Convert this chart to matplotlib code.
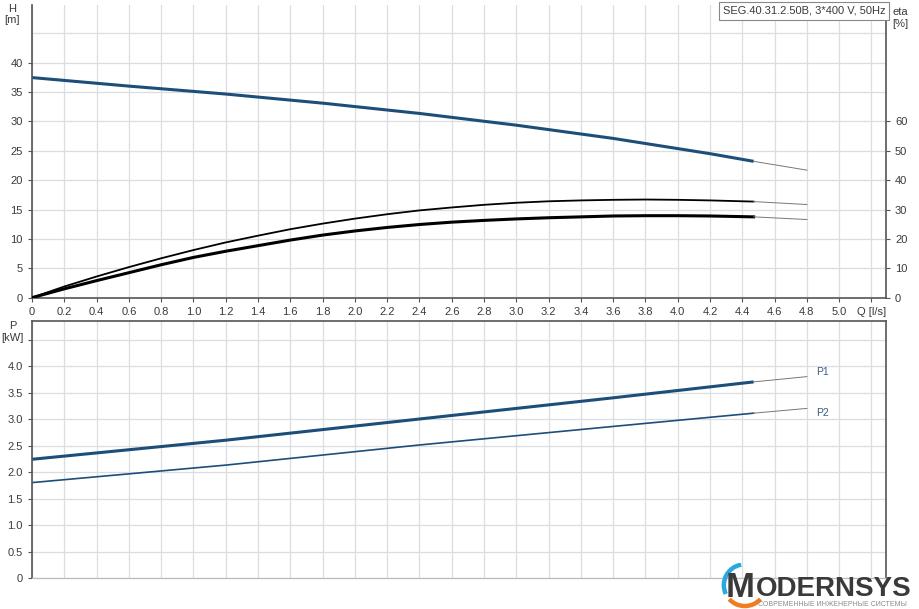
import matplotlib
matplotlib.use("Agg")
import matplotlib.pyplot as plt
from matplotlib.patches import Arc
from matplotlib.ticker import FixedLocator

plt.rcParams["font.family"] = ["Liberation Sans", "DejaVu Sans"]

# pump curve H(Q), thick part up to 4.47 l/s, thin extension to 4.8
q_h = [0, 0.6, 1.2, 1.8, 2.4, 3.0, 3.6, 4.2, 4.47]
h_m = [37.45, 36.0, 34.65, 33.1, 31.35, 29.35, 27.1, 24.5, 23.2]
q_h_ext = [4.47, 4.8]
h_m_ext = [23.2, 21.7]

# efficiency curves [%]
q_eta = [0, 0.2, 0.4, 0.6, 0.8, 1.0, 1.2, 1.4, 1.6, 1.8, 2.0, 2.2,
         2.4, 2.6, 2.8, 3.0, 3.2, 3.4, 3.6, 3.8, 4.0, 4.2, 4.47]
eta_upper = [0, 3.8, 7.2, 10.4, 13.4, 16.2, 18.8, 21.1, 23.3, 25.2, 26.9, 28.4,
             29.7, 30.7, 31.6, 32.3, 32.8, 33.1, 33.3, 33.4, 33.3, 33.1, 32.7]
eta_lower = [0, 3.0, 5.8, 8.5, 11.2, 13.7, 15.8, 17.7, 19.6, 21.3, 22.7, 23.9,
             24.9, 25.7, 26.3, 26.8, 27.2, 27.5, 27.8, 27.9, 27.9, 27.8, 27.5]
q_eta_ext = [4.47, 4.8]
eta_upper_ext = [32.7, 31.7]
eta_lower_ext = [27.5, 26.6]

# power curves [kW]
q_p = [0, 1.2, 2.4, 3.6, 4.47]
p1 = [2.24, 2.60, 3.00, 3.40, 3.70]
p2 = [1.80, 2.13, 2.51, 2.86, 3.11]
q_p_ext = [4.47, 4.8]
p1_ext = [3.70, 3.80]
p2_ext = [3.11, 3.20]

x_ticks = [round(0.2 * i, 1) for i in range(27)]
x_labels = ["0"] + [f"{v:.1f}" for v in x_ticks[1:-1]] + ["Q [l/s]"]
h_ticks = [0, 5, 10, 15, 20, 25, 30, 35, 40]
eta_ticks = [0, 10, 20, 30, 40, 50, 60]
p_ticks = [0, 0.5, 1.0, 1.5, 2.0, 2.5, 3.0, 3.5, 4.0]
p_labels = ["0", "0.5", "1.0", "1.5", "2.0", "2.5", "3.0", "3.5", "4.0"]

title_box = "SEG.40.31.2.50B, 3*400 V, 50Hz"

BLUE = "#1d4e79"
GRID = "#dcdde2"
SPINE = "#555555"
TXT = "#3a3a3a"
EXT = "#777777"
XMAX = 5.29
HMAX = 49.8
PMAX = 4.855

fig = plt.figure(figsize=(9.19, 6.09), dpi=100)
ax1 = fig.add_axes([0.0348, 0.5112, 0.9293, 0.4806])
ax2 = fig.add_axes([0.0348, 0.0509, 0.9293, 0.4225])


def style_axes(ax):
    ax.set_xlim(0, XMAX)
    ax.set_xticks(x_ticks)
    ax.grid(True, which="both", color=GRID, linewidth=0.9)
    ax.set_axisbelow(True)
    ax.tick_params(colors=SPINE, labelcolor=TXT, labelsize=8, length=3, width=0.8)
    ax.tick_params(which="minor", length=0)
    for s in ax.spines.values():
        s.set_color(SPINE)
        s.set_linewidth(1.2)


# top panel: H and eta
style_axes(ax1)
ax1.set_ylim(0, HMAX)
ax1.set_yticks(h_ticks)
ax1.yaxis.set_minor_locator(FixedLocator([45]))
ax1.set_xticklabels(x_labels)
ax1.spines["top"].set_visible(False)
ax1.plot(q_h, h_m, color=BLUE, linewidth=2.2, solid_capstyle="butt")
ax1.plot(q_h_ext, h_m_ext, color=EXT, linewidth=0.7)

ax1b = ax1.twinx()
ax1b.set_ylim(0, 2 * HMAX)
ax1b.set_yticks(eta_ticks)
ax1b.tick_params(colors=SPINE, labelcolor=TXT, labelsize=8, length=3, width=0.8)
for s in ax1b.spines.values():
    s.set_visible(False)
ax1b.plot(q_eta, eta_upper, color="black", linewidth=1.3)
ax1b.plot(q_eta, eta_lower, color="black", linewidth=2.2)
ax1b.plot(q_eta_ext, eta_upper_ext, color=EXT, linewidth=0.7)
ax1b.plot(q_eta_ext, eta_lower_ext, color=EXT, linewidth=0.7)

ax1.text(0.999, 0.997, title_box, transform=ax1.transAxes, ha="right", va="top",
         fontsize=8, color=TXT,
         bbox=dict(boxstyle="square,pad=0.35", facecolor="white", edgecolor="#888888", linewidth=0.8))

fig.text(0.0136, 0.994, "H\n[m]", ha="center", va="top", fontsize=8, color=TXT, linespacing=1.2)
fig.text(0.971, 0.988, "eta\n[%]", ha="left", va="top", fontsize=8, color=TXT, linespacing=1.2)

# bottom panel: P1 / P2
style_axes(ax2)
ax2.set_ylim(0, PMAX)
ax2.set_yticks(p_ticks + [4.5])
ax2.set_yticklabels(p_labels + [""])
ax2.tick_params(axis="x", length=0, labelbottom=False)
ax2.spines["bottom"].set_color("#bbbbbb")
ax2.spines["bottom"].set_linewidth(0.9)
ax2.plot(q_p, p1, color=BLUE, linewidth=2.2, solid_capstyle="butt")
ax2.plot(q_p, p2, color=BLUE, linewidth=1.2)
ax2.plot(q_p_ext, p1_ext, color=EXT, linewidth=0.7)
ax2.plot(q_p_ext, p2_ext, color=EXT, linewidth=0.7)
ax2.text(4.86, p1_ext[-1] + 0.08, "P1", fontsize=7.5, color="#3b5d7d", va="center")
ax2.text(4.86, p2_ext[-1] - 0.09, "P2", fontsize=7.5, color="#3b5d7d", va="center")

fig.text(0.0136, 0.473, "P\n[kW]", ha="center", va="top", fontsize=8, color=TXT, linespacing=1.2)

# watermark logo, drawn in pixel-like units of its own box
lax = fig.add_axes([0.780, 0.0, 0.220, 0.075])
lax.set_xlim(0, 202)
lax.set_ylim(0, 46)
lax.axis("off")
lax.add_patch(Arc((28, 24), 42, 42, theta1=100, theta2=205, color="#2aa7e0", linewidth=3.2))
lax.add_patch(Arc((28, 24), 42, 42, theta1=222, theta2=318, color="#f07d22", linewidth=3.2))
lax.text(9, 22, "M", fontsize=25, fontweight="bold", color="#3a3a3a", va="center", ha="left")
lax.text(39, 20, "ODERNSYS", fontsize=20, fontweight="bold", color="#3a3a3a", va="center", ha="left")
lax.text(41, 4.5, "СОВРЕМЕННЫЕ ИНЖЕНЕРНЫЕ СИСТЕМЫ", fontsize=5.0, color="#8a8a8a", va="center", ha="left")

fig.savefig("out.png", dpi=100)
